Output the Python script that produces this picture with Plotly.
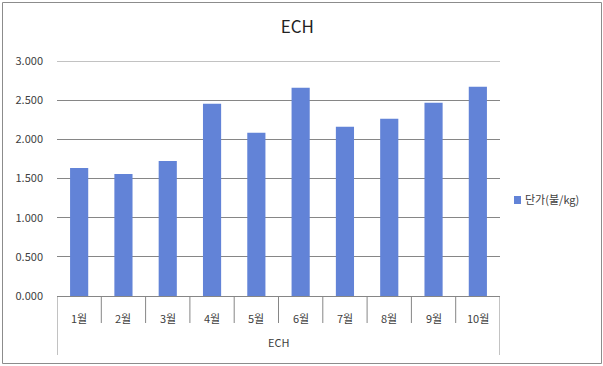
import plotly.graph_objects as go

months = ["1월", "2월", "3월", "4월", "5월", "6월", "7월", "8월", "9월", "10월"]
group_label = "ECH"
prices = [1.635, 1.558, 1.725, 2.454, 2.083, 2.659, 2.160, 2.262, 2.467, 2.672]
series_name = "단가(불/kg)"
y_ticks = [0, 0.5, 1.0, 1.5, 2.0, 2.5, 3.0]

FONT = "Noto Sans CJK KR, Noto Sans, sans-serif"
GRID = "#868686"
TXT = "#404040"
BAR = "#6283d7"
BORDER = "#8c8c8c"
W, H = 603, 366
ML, MR, MT, MB = 57, 103, 61, 70
PW, PH = W - ML - MR, H - MT - MB  # plot area size in px
n = len(months)
xs = list(range(n))


def px_x(p):  # pixel -> paper x
    return (p - ML) / PW


def px_y(p):  # pixel -> paper y
    return (H - MB - p) / PH


fig = go.Figure()
fig.add_trace(go.Bar(x=xs, y=prices, name=series_name, marker_color=BAR,
                     marker_line_width=0, showlegend=False))

shapes = []
# top gridline (at axis maximum)
shapes.append(dict(type="line", xref="paper", yref="y", x0=0, x1=1,
                   y0=y_ticks[-1], y1=y_ticks[-1], line=dict(color=GRID, width=1), layer="below"))
# category separators
for i in range(n + 1):
    edge = i in (0, n)
    shapes.append(dict(type="line", xref="x", yref="paper", x0=i - 0.5, x1=i - 0.5,
                       y0=0, y1=px_y(355) if edge else px_y(323),
                       line=dict(color=GRID, width=1)))
# chart border
shapes.append(dict(type="rect", xref="paper", yref="paper",
                   x0=px_x(2.5), x1=px_x(601.5), y0=px_y(363.5), y1=px_y(2.5),
                   line=dict(color=BORDER, width=1), layer="above"))
# legend swatch
shapes.append(dict(type="rect", xref="paper", yref="paper",
                   x0=px_x(514), x1=px_x(521), y0=px_y(204), y1=px_y(196),
                   fillcolor=BAR, line=dict(width=0)))

annotations = []
for i, m in enumerate(months):
    annotations.append(dict(x=i, y=px_y(318), xref="x", yref="paper", text=m, showarrow=False,
                            yanchor="middle", font=dict(family=FONT, size=11, color=TXT)))
annotations.append(dict(x=(n - 1) / 2, y=px_y(342), xref="x", yref="paper", text=group_label,
                        yanchor="middle", showarrow=False,
                        font=dict(family=FONT, size=11, color=TXT)))
annotations.append(dict(x=px_x(523), y=px_y(199), xref="paper", yref="paper", text=series_name,
                        xanchor="left", yanchor="middle", showarrow=False,
                        font=dict(family=FONT, size=11, color=TXT)))

fig.update_layout(
    width=W, height=H,
    margin=dict(l=ML, r=MR, t=MT, b=MB, pad=0),
    paper_bgcolor="white", plot_bgcolor="white",
    showlegend=False,
    title=dict(text="ECH", x=0.493, xanchor="center", y=1 - 27 / H, yanchor="middle",
               font=dict(family=FONT, size=17, color="#222222")),
    bargap=0.59,
    xaxis=dict(range=[-0.5, n - 0.5], showticklabels=False, ticks="", showgrid=False,
               zeroline=False, showline=False, automargin=False),
    yaxis=dict(range=[0, 3.0], tickvals=y_ticks, tickformat=".3f", showgrid=True,
               gridcolor=GRID, gridwidth=1, zeroline=True, zerolinecolor=GRID, zerolinewidth=1,
               showline=False, ticks="", ticklabelstandoff=13, automargin=False,
               tickfont=dict(family=FONT, size=11, color=TXT)),
    shapes=shapes, annotations=annotations,
)

fig.write_html("out.html", config={"displayModeBar": False},
               post_script="document.body.style.margin='0';")
